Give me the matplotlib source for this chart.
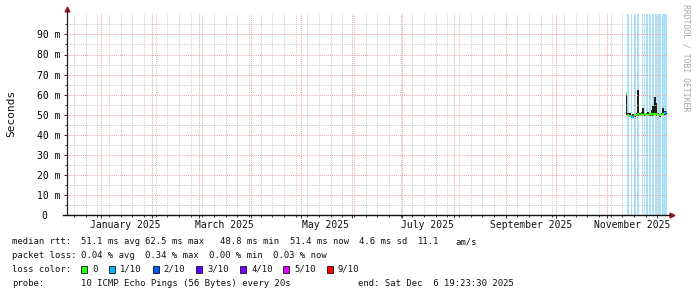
import matplotlib
matplotlib.use("Agg")
import matplotlib.pyplot as plt
import matplotlib.dates as mdates
from matplotlib.patches import Rectangle
from matplotlib.ticker import NullFormatter
from matplotlib.transforms import blended_transform_factory
import numpy as np
import pandas as pd

# time window (smokeping "last 360 days")
end_time = pd.Timestamp("2025-12-06 19:23:30")
start_time = end_time - pd.Timedelta(days=360)

# daily samples, only the last weeks hold data
days = ["2025-11-12", "2025-11-13", "2025-11-14", "2025-11-15", "2025-11-16",
        "2025-11-17", "2025-11-18", "2025-11-19", "2025-11-20", "2025-11-21",
        "2025-11-22", "2025-11-23", "2025-11-24", "2025-11-25", "2025-11-26",
        "2025-11-27", "2025-11-28", "2025-11-29", "2025-11-30", "2025-12-01",
        "2025-12-02", "2025-12-03", "2025-12-04", "2025-12-05", "2025-12-06"]
median_ms = [60.2, 50.0, 49.6, 48.9, 49.0, 49.8, 50.0, 50.2, 50.1, 50.3,
             50.0, 50.2, 50.0, 50.1, 50.3, 50.4, 50.2, 50.5, 50.3, 50.0,
             49.8, 50.1, 50.6, 50.9, 51.4]
smoke_hi = [60.5, 51.0, 50.8, 50.0, 50.2, 50.6, 51.0, 62.5, 51.0, 51.2,
            53.5, 51.0, 50.8, 51.2, 51.0, 52.5, 54.4, 58.7, 56.0, 51.0,
            50.6, 51.0, 53.4, 52.0, 52.0]
smoke_lo = [50.0, 49.2, 48.9, 48.5, 48.6, 49.1, 49.3, 49.4, 49.4, 49.6,
            49.3, 49.5, 49.3, 49.4, 49.6, 49.6, 49.5, 49.7, 49.6, 49.3,
            49.1, 49.4, 49.8, 50.0, 50.5]
loss_idx = [0, 0, 0, 1, 1, 0, 0, 0, 0, 0, 0, 0, 0, 0, 0, 0, 0, 0, 0, 0,
            0, 0, 0, 1, 1]

# light blue columns
gap_start = ["2025-11-12 16:00", "2025-11-14 23:00", "2025-11-16 19:00",
             "2025-11-19 01:00", "2025-11-21 17:00", "2025-11-22 21:00",
             "2025-11-24 09:00", "2025-11-25 23:00", "2025-11-27 17:00",
             "2025-11-29 19:00", "2025-12-01 11:00", "2025-12-03 23:00"]
gap_end = ["2025-11-14 01:00", "2025-11-15 17:00", "2025-11-18 01:00",
           "2025-11-19 23:00", "2025-11-22 05:00", "2025-11-23 19:00",
           "2025-11-25 13:00", "2025-11-27 07:00", "2025-11-28 23:00",
           "2025-12-01 02:00", "2025-12-03 12:00", "2025-12-06 19:23"]

loss_labels = ["0", "1/10", "2/10", "3/10", "4/10", "5/10", "9/10"]
loss_colors = ["#26ff00", "#00b8ff", "#0059ff", "#5e00ff", "#7e00ff", "#dd00ff", "#ff0000"]

y_ticks = [0, 10, 20, 30, 40, 50, 60, 70, 80, 90]
y_labels = ["0  ", "10 m", "20 m", "30 m", "40 m", "50 m", "60 m", "70 m", "80 m", "90 m"]
month_labels = ["January 2025", "March 2025", "May 2025", "July 2025",
                "September 2025", "November 2025"]
month_label_at = ["2025-01-16", "2025-03-16", "2025-05-16", "2025-07-16",
                  "2025-09-16", "2025-11-16"]

MONO = "DejaVu Sans Mono"
W, H = 697, 297

fig = plt.figure(figsize=(W / 100, H / 100), dpi=100)
fig.patch.set_facecolor("white")
ax = fig.add_axes([67 / W, (H - 215.3) / H, 600 / W, 201 / H])

x = pd.to_datetime(days)
med = np.array(median_ms)
lo = np.array(smoke_lo)
hi = np.array(smoke_hi)

for a, b in zip(gap_start, gap_end):
    ax.axvspan(pd.Timestamp(a), pd.Timestamp(b), color="#a8e2f8", lw=0, zorder=0.5)

ax.bar(x, hi - lo, bottom=lo, width=1.0, align="edge", color="#1e1e1e", lw=0, zorder=1)
ax.hlines(med, x, x + pd.Timedelta(days=1), colors=[loss_colors[i] for i in loss_idx],
          lw=1.5, zorder=2)

ax.set_xlim(start_time, end_time)
ax.set_ylim(0, 100)

# grid
ax.xaxis.set_major_locator(mdates.MonthLocator())
ax.xaxis.set_minor_locator(mdates.WeekdayLocator(byweekday=mdates.MO))
ax.xaxis.set_major_formatter(NullFormatter())
ax.set_yticks(y_ticks)
ax.set_yticklabels(y_labels, fontfamily=MONO, fontsize=7)
ax.set_yticks(np.arange(5, 100, 5), minor=True)
ax.set_axisbelow(False)
ax.grid(which="major", color="#e9a3a3", ls=(0, (1, 1)), lw=0.7)
ax.grid(which="minor", color="#cccccc", ls=(0, (1, 1)), lw=0.7)
ax.tick_params(which="major", length=2.2, width=0.7, color="#333333", pad=2.8)
ax.tick_params(which="minor", length=1.4, width=0.7, color="#333333")
for s in ax.spines.values():
    s.set_visible(False)

# axis lines with arrows
ax.plot([0, 0], [0, 1.02], transform=ax.transAxes, color="#222222", lw=0.9, clip_on=False, zorder=3)
ax.plot([-0.007, 1.005], [0, 0], transform=ax.transAxes, color="#111111", lw=1.0, clip_on=False, zorder=3)
ax.plot([0], [1.025], marker="^", ms=3.5, color="#9b1c1c", transform=ax.transAxes, clip_on=False)
ax.plot([1.009], [0], marker=">", ms=3.5, color="#9b1c1c", transform=ax.transAxes, clip_on=False)

trans = blended_transform_factory(ax.transData, ax.transAxes)
for lab, at in zip(month_labels, month_label_at):
    ax.text(pd.Timestamp(at), -0.025, lab, transform=trans, ha="center", va="top",
            fontfamily=MONO, fontsize=7, color="#111111")

fig.text(11 / W, 1 - 113.5 / H, "Seconds", rotation=90, ha="center", va="center",
         fontfamily=MONO, fontsize=8, color="#111111")
fig.text(686 / W, 1 - 4 / H, "RRDTOOL / TOBI OETIKER", rotation=270, ha="center", va="top",
         fontfamily=MONO, fontsize=5.9, color="#a8a8a8")


def legend_text(px, py, s):
    fig.text(px / W, 1 - py / H, s, ha="left", va="center", fontfamily=MONO,
             fontsize=6.4, color="#111111")


rows = [241.7, 255.7, 269.3, 283.3]
legend_text(12.3, rows[0], "median rtt:")
for px, s in zip([80.7, 145, 220, 290, 359.3, 418.3, 455.7],
                 ["51.1 ms avg", "62.5 ms max", "48.8 ms min", "51.4 ms now",
                  "4.6 ms sd", "11.1", "am/s"]):
    legend_text(px, rows[0], s)

legend_text(12.3, rows[1], "packet loss:")
for px, s in zip([80.7, 145, 209.3, 273.3],
                 ["0.04 % avg", "0.34 % max", "0.00 % min", "0.03 % now"]):
    legend_text(px, rows[1], s)

legend_text(12.3, rows[2], "loss color:")
box_x = [81, 109.3, 152.7, 196, 240, 283.3, 326.7]
for bx, lab, col in zip(box_x, loss_labels, loss_colors):
    fig.add_artist(Rectangle((bx / W, 1 - (rows[2] + 3.5) / H), 6 / W, 7 / H,
                             transform=fig.transFigure, facecolor=col,
                             edgecolor="#111111", lw=0.6))
    legend_text(bx + 11, rows[2], lab)

legend_text(12.3, rows[3], "probe:")
legend_text(80.7, rows[3], "10 ICMP Echo Pings (56 Bytes) every 20s")
legend_text(358.3, rows[3], "end: Sat Dec  6 19:23:30 2025")

fig.savefig("out.png", dpi=100, facecolor="white")
